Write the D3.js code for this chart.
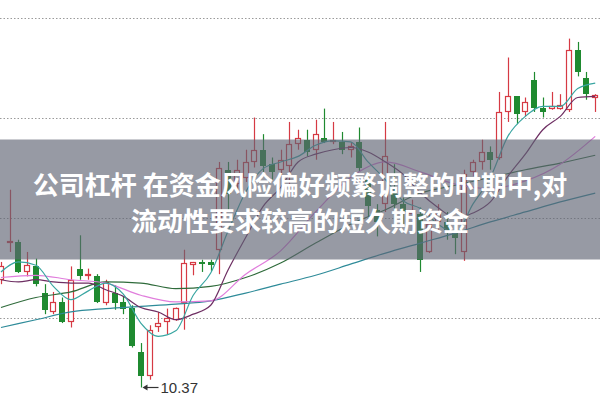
<!DOCTYPE html>
<html><head><meta charset="utf-8">
<script src="https://cdn.jsdelivr.net/npm/d3@7"></script>
<style>html,body{margin:0;padding:0;background:#fff;overflow:hidden}</style>
</head><body><div id="chart"></div>
<script>
// ---- data ----
const opens  = [11.34,11.67,11.68,11.41,11.46,11.22,11.05,11.14,10.96,11.44,11.37,11.37,11.13,11.22,11.14,11.09,10.69,10.47,10.91,10.96,10.98,11.13,11.47,11.50,11.50,11.61,12.33,12.20,12.26,12.40,12.51,12.38,12.33,12.36,12.56,12.60,12.51,12.62,12.58,12.58,12.51,12.58,12.24,11.97,12.02,12.13,12.02,11.93,11.93,11.59,11.86,11.86,11.79,11.59,12.31,12.40,12.49,12.44,12.85,12.99,12.85,13.14,12.89,12.88,12.88,12.87,13.41,13.16,12.98];
const highs  = [11.50,12.15,11.70,11.59,11.53,11.30,11.23,11.18,11.46,11.74,11.44,11.39,11.34,11.29,11.19,11.11,10.77,10.93,11.05,11.08,11.09,11.61,11.50,11.52,11.52,12.40,12.40,12.42,12.51,12.80,12.65,12.44,12.51,12.76,12.69,12.69,12.78,12.88,12.76,12.67,12.58,12.71,12.31,12.02,12.76,12.38,12.08,12.06,11.99,11.93,12.02,11.95,11.86,12.33,12.42,12.60,12.54,13.03,13.34,12.99,12.98,13.21,12.98,13.03,13.01,13.51,13.48,13.21,13.01];
const lows   = [11.30,11.59,11.40,11.37,11.28,11.03,11.03,10.95,10.91,11.34,11.34,11.13,11.11,11.07,11.03,10.73,10.37,10.44,10.87,10.85,10.97,10.89,11.38,11.41,11.42,11.39,11.95,12.11,12.22,12.35,12.31,12.24,12.28,12.13,12.51,12.45,12.42,12.57,12.56,12.47,12.44,12.31,11.91,11.73,11.95,11.97,11.84,11.79,11.41,11.58,11.77,11.70,11.57,11.51,12.27,12.33,12.33,12.42,12.76,12.74,12.81,12.85,12.80,12.87,12.87,12.85,13.17,12.96,12.85];
const closes = [11.46,11.69,11.41,11.47,11.30,11.07,11.14,10.96,11.34,11.37,11.39,11.14,11.32,11.13,11.08,10.74,10.47,10.89,10.95,11.00,11.09,11.49,11.50,11.48,11.47,12.35,12.11,12.33,12.40,12.51,12.36,12.31,12.42,12.56,12.62,12.49,12.65,12.58,12.60,12.51,12.54,12.35,12.00,11.86,12.45,12.02,11.95,11.97,11.52,11.84,11.93,11.79,11.72,12.29,12.40,12.49,12.42,12.85,12.99,12.83,12.94,12.89,12.85,12.90,12.91,13.41,13.21,13.01,13.00];

// moving-average lines, read at these candle positions
const maIdxFine   = [0,2,4,6,8,10,12,14,16,18,20,22,24,26,28,30,32,34,36,38,40,42,44,46,48,50,52,54,56,58,60,62,64,66,68];
const ma5  = [11.41,11.50,11.47,11.28,11.16,11.24,11.31,11.21,10.95,10.83,10.88,11.20,11.40,11.78,12.13,12.34,12.40,12.45,12.55,12.59,12.58,12.40,12.24,12.05,11.98,11.84,11.76,12.02,12.26,12.63,12.81,12.90,12.90,13.06,13.11];
const ma10 = [11.34,11.32,11.34,11.32,11.31,11.31,11.25,11.19,11.09,11.05,10.98,11.03,11.11,11.43,11.72,12.00,12.17,12.40,12.47,12.51,12.53,12.49,12.40,12.29,12.12,11.99,11.90,11.94,12.04,12.27,12.47,12.69,12.81,12.98,12.99];
const maIdxCoarse = [0,4,8,12,16,20,24,28,32,36,40,44,48,52,56,60,64,68];
const ma20 = [11.36,11.38,11.34,11.31,11.20,11.14,11.15,11.39,11.60,11.95,12.26,12.40,12.31,12.20,12.16,12.23,12.38,12.63];
const ma30 = [11.09,11.18,11.23,11.32,11.31,11.26,11.28,11.36,11.49,11.67,11.84,11.97,12.12,12.19,12.26,12.33,12.39,12.46];
const ma60 = [10.91,10.98,11.05,11.08,11.10,11.12,11.15,11.22,11.30,11.38,11.48,11.58,11.67,11.76,11.86,11.95,12.04,12.12];

const gridValues = [11.0, 11.9, 12.8, 13.7];
const titleLines = ["公司杠杆 在资金风险偏好频繁调整的时期中,对", "流动性要求较高的短久期资金"];

// ---- drawing ----
const W = 600, H = 401;
const RED = "#d63a44", GREEN = "#1f8a30";
const svg = d3.select("#chart").append("svg").attr("width", W).attr("height", H)
  .style("display","block").style("background","#fff");

const n = closes.length;
const x = d3.scaleBand().domain(d3.range(n)).range([-3.4, 599.6]).paddingInner(0.3).paddingOuter(0.15);
const y = d3.scaleLinear().domain([10, 14]).range([428.61, -15.83]);
const cx = i => Math.round(x(i) + x.bandwidth() / 2) + 0.5;
const bw = Math.max(5, Math.round(x.bandwidth()));

// grid
svg.append("g").selectAll("line").data(gridValues).join("line")
  .attr("x1", 0).attr("x2", W)
  .attr("y1", d => Math.round(y(d)) + 0.5).attr("y2", d => Math.round(y(d)) + 0.5)
  .attr("stroke", "#9a9a9a").attr("stroke-width", 1).attr("stroke-dasharray", "1.5,2");

// candles
const cg = svg.append("g");
d3.range(n).forEach(i => {
  const up = closes[i] >= opens[i];
  const col = up ? RED : GREEN;
  const c = cx(i);
  cg.append("line").attr("x1", c).attr("x2", c)
    .attr("y1", y(highs[i])).attr("y2", y(lows[i]))
    .attr("stroke", col).attr("stroke-width", 1.2);
  const top = Math.round(y(Math.max(opens[i], closes[i])));
  const bot = Math.round(y(Math.min(opens[i], closes[i])));
  const h = Math.max(1, bot - top);
  if (up) {
    cg.append("rect").attr("x", c - bw / 2).attr("y", top + 0.5)
      .attr("width", bw - 1).attr("height", Math.max(1, h - 1))
      .attr("fill", "#fff").attr("stroke", col).attr("stroke-width", 1.2);
  } else {
    cg.append("rect").attr("x", c - bw / 2 - 0.5).attr("y", top)
      .attr("width", bw).attr("height", h)
      .attr("fill", col);
  }
});

// MA lines
const maDefs = [
  {idx: maIdxCoarse, vals: ma60, color: "#2e8b99"},
  {idx: maIdxCoarse, vals: ma30, color: "#2f6b3b"},
  {idx: maIdxCoarse, vals: ma20, color: "#e07ddc"},
  {idx: maIdxFine,   vals: ma10, color: "#6e2f63"},
  {idx: maIdxFine,   vals: ma5,  color: "#3aa6a2"}
];
const line = d3.line().x(d => x(d[0]) + x.bandwidth() / 2).y(d => y(d[1])).curve(d3.curveMonotoneX);
maDefs.forEach(m => {
  svg.append("path").datum(m.idx.map((k, j) => [k, m.vals[j]]))
    .attr("d", line).attr("fill", "none").attr("stroke", m.color).attr("stroke-width", 1.2);
});

// lowest-price marker
const iMin = d3.minIndex(lows);
const yl = Math.round(y(lows[iMin])) + 0.5;
const ax = cx(iMin) + 1;
svg.append("line").attr("x1", ax + 2).attr("x2", ax + 16).attr("y1", yl).attr("y2", yl)
  .attr("stroke", "#333").attr("stroke-width", 1.2);
svg.append("path").attr("d", `M${ax},${yl} l5,-3 l0,6 z`).attr("fill", "#333");
svg.append("text").attr("x", ax + 18).attr("y", yl + 5.5)
  .attr("font-family", "Liberation Sans, Arial, sans-serif").attr("font-size", 15)
  .attr("fill", "#333").text(d3.format(".2f")(lows[iMin]));

// overlay band + title
svg.append("rect").attr("x", 0).attr("y", 139.5).attr("width", W).attr("height", 120)
  .attr("fill", "rgb(95,100,115)").attr("opacity", 0.65);
svg.append("g").selectAll("text").data(titleLines).join("text")
  .attr("x", 300).attr("y", (d, i) => 183 + i * 36)
  .attr("text-anchor", "middle").attr("dominant-baseline", "central")
  .attr("font-family", "Noto Sans CJK SC, sans-serif").attr("font-weight", "bold")
  .attr("font-size", 26).attr("fill", "#fff").text(d => d);
</script>
</body></html>
